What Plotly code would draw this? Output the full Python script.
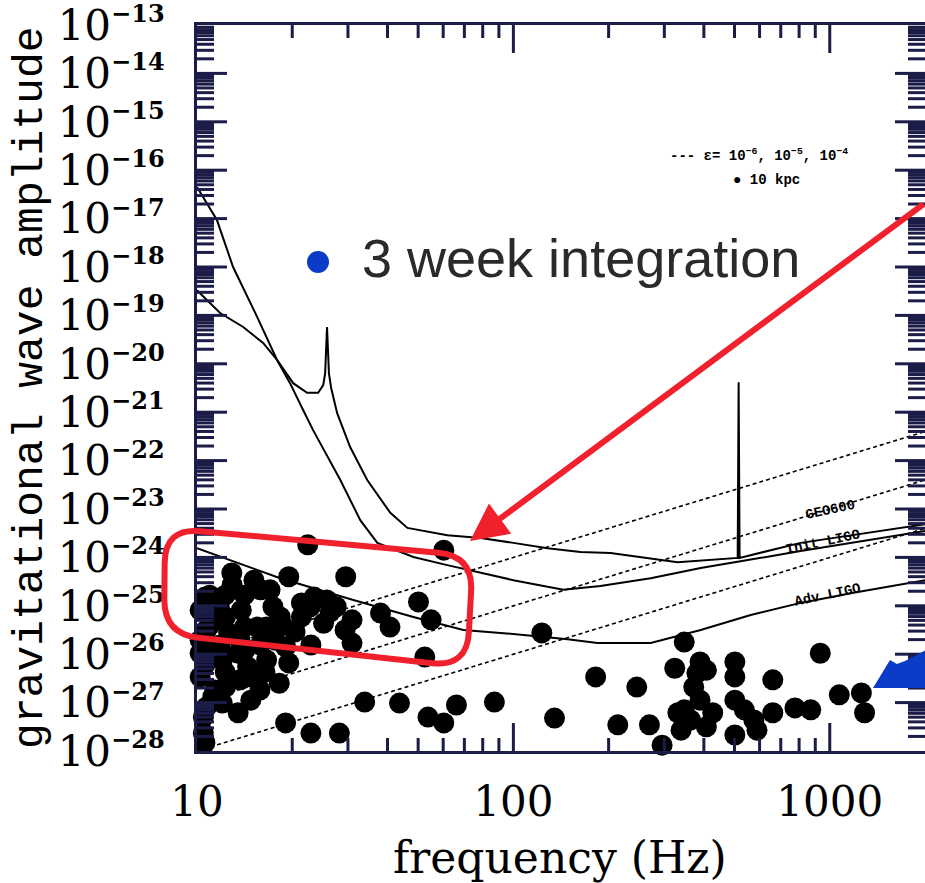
import numpy as np
import plotly.graph_objects as go

# ---------------- data (log10 units) ----------------
# Initial LIGO sensitivity curve
init_logf = [1.000, 1.063, 1.114, 1.190, 1.253, 1.294, 1.335, 1.367, 1.453, 1.516, 1.570,
             1.684, 1.791, 1.896, 2.000, 2.158, 2.275, 2.434, 2.592, 2.908, 3.304]
init_logh = [-16.35, -17.03, -18.00, -19.03, -19.92, -20.40, -20.95, -21.37, -22.40, -23.23, -23.70,
             -23.99, -24.16, -24.32, -24.47, -24.67, -24.59, -24.43, -24.22, -23.87, -23.45]

# GEO600 sensitivity curve (with 25 Hz line and violin-mode spike)
geo_logf = [1.000, 1.073, 1.146, 1.209, 1.253, 1.304, 1.348, 1.383, 1.399, 1.405, 1.411, 1.417,
            1.424, 1.443, 1.484, 1.538, 1.611, 1.665, 1.791, 1.896, 2.000, 2.108, 2.212, 2.307,
            2.519, 2.709, 2.712, 2.715, 2.908, 3.304]
geo_logh = [-18.48, -18.95, -19.24, -19.57, -19.92, -20.40, -20.60, -20.60, -20.44, -20.20, -19.24, -20.20,
            -20.50, -21.02, -21.72, -22.40, -23.08, -23.39, -23.54, -23.60, -23.70, -23.81, -23.89, -23.91,
            -24.10, -24.01, -20.38, -24.01, -23.70, -23.31]

# Advanced LIGO sensitivity curve
adv_logf = [1.000, 1.263, 1.494, 1.684, 1.842, 1.959, 2.171, 2.266, 2.434, 2.592, 2.750, 2.908, 3.066, 3.304]
adv_logh = [-23.81, -24.43, -24.88, -25.23, -25.50, -25.56, -25.69, -25.77, -25.77, -25.50, -25.19, -24.94,
            -24.74, -24.47]

# ellipticity lines (end points, 10 Hz and 2000 Hz)
eps_logf = [1.0, 3.30103]
eps_logh = [[-26.0, -21.40], [-27.0, -22.40], [-28.0, -23.40]]

# known pulsars at 10 kpc
psr_logf = [1.35, 1.78, 1.11, 1.18, 1.29, 1.47, 1.15, 1.20, 1.01, 1.07, 1.14, 1.24, 1.33, 1.37, 1.41,
            1.44, 1.40, 1.49, 1.03, 1.10, 1.19, 1.22, 1.33, 1.58, 1.61, 1.70, 1.74, 1.49, 1.36, 1.28,
            1.72, 1.01, 1.06, 1.13, 1.22, 1.29, 1.01, 1.09, 1.17, 1.26, 1.17, 1.03, 1.13, 1.02, 1.025,
            1.28, 1.36, 1.45, 1.53, 1.64, 1.73, 1.78, 1.82, 1.94, 1.04, 1.05, 1.09, 1.15, 1.01, 1.08,
            1.05, 1.20, 1.27, 1.16, 1.02, 1.08,
            1.025, 1.089, 1.041, 1.073, 1.136, 1.152, 1.247, 1.310, 1.263, 1.358, 1.421, 1.468,
            1.025, 1.089, 1.136, 1.215, 1.057, 1.199, 0.987, 0.987, 0.987, 1.231, 1.111,
            2.09, 2.54, 2.97, 2.26, 2.39, 2.51, 2.59, 2.61, 2.70, 2.70, 2.82, 3.03, 3.10, 3.11, 2.13,
            2.33, 2.43, 2.47, 2.52, 2.53, 2.57, 2.59, 2.63, 2.61, 2.70, 2.73, 2.76, 2.77, 2.70, 2.82,
            2.89, 2.94, 2.58, 2.54, 2.56]
psr_logh = [-23.74, -23.85, -24.32, -24.47, -24.40, -24.40, -24.78, -24.67, -25.09, -25.02, -25.09, -25.02,
            -24.94, -24.82, -24.88, -25.02, -25.36, -25.29, -25.50, -25.56, -25.44, -25.44, -25.23, -25.15,
            -25.44, -24.92, -25.29, -25.77, -25.81, -25.85, -26.06, -25.98, -25.91, -25.98, -26.12, -26.18,
            -26.47, -26.68, -26.47, -26.60, -26.95, -27.09, -27.21, -27.63, -27.83, -27.42, -27.63, -27.63,
            -26.99, -27.01, -27.30, -27.42, -27.05, -26.99, -24.78, -25.29, -25.23, -25.44, -25.71, -26.12,
            -26.88, -25.81, -25.40, -26.26, -27.30, -27.01,
            -24.82, -24.78, -25.40, -25.81, -25.71, -25.91, -25.71, -25.54, -25.23, -25.02, -25.13, -25.50,
            -26.22, -26.37, -26.53, -26.37, -26.74, -26.74, -25.29, -25.81, -26.29, -24.67, -24.57,
            -25.56, -25.75, -25.98, -26.47, -26.68, -26.29, -26.16, -26.33, -26.16, -26.47, -26.53, -26.84,
            -26.80, -27.21, -27.32, -27.46, -27.46, -27.88, -27.21, -27.57, -26.68, -26.95, -27.21, -27.50,
            -26.95, -27.15, -27.36, -27.57, -27.67, -27.21, -27.11, -27.15, -26.39, -27.15, -27.36]

x_ticks = [10, 100, 1000]
x_ticktext = ["10", "100", "1000"]
y_exponents = list(range(-28, -12))

# ---------------- figure ----------------
def p10(v):
    return [10.0 ** a for a in v]

XR = [1.0, np.log10(2000)]
YR = [-28.0, -13.0]
X0, W, Y1, H = 197, 728, 751, 726
PPD_X = W / (XR[1] - XR[0])
PPD_Y = H / (YR[1] - YR[0])
INK = "#1c1c48"

fig = go.Figure()
for row in eps_logh:
    fig.add_trace(go.Scatter(x=p10(eps_logf), y=p10(row), mode="lines",
                             line=dict(color="black", width=1.6, dash="4px,3px"), hoverinfo="skip"))
for lf, lh in [(init_logf, init_logh), (geo_logf, geo_logh), (adv_logf, adv_logh)]:
    fig.add_trace(go.Scatter(x=p10(lf), y=p10(lh), mode="lines",
                             line=dict(color="black", width=2), hoverinfo="skip"))
fig.add_trace(go.Scatter(x=p10(psr_logf), y=p10(psr_logh), mode="markers", cliponaxis=False,
                         marker=dict(color="black", size=21, line=dict(width=0)), hoverinfo="skip"))

# inside ticks, one trace per side
y_minor = [k * 10.0 ** e for e in range(-28, -13) for k in range(2, 10)]
y_major = [10.0 ** e for e in range(-27, -13)]
x_minor = [k * 10 ** d for d in (1, 2) for k in range(2, 10)]
x_major = [100, 1000]
y_ticks_all = [(v, 30) for v in y_major] + [(v, 17) for v in y_minor]
x_ticks_all = [(v, 28) for v in x_major] + [(v, 13) for v in x_minor]

def side_ticks(side):
    xs, ys = [], []
    if side in ("left", "right"):
        for v, L in y_ticks_all:
            if side == "left":
                xs += [10 ** XR[0], 10 ** (XR[0] + L / PPD_X), None]
            else:
                xs += [10 ** XR[1], 10 ** (XR[1] - L / PPD_X), None]
            ys += [v, v, None]
    else:
        for v, L in x_ticks_all:
            xs += [v, v, None]
            if side == "bottom":
                ys += [10 ** YR[0], 10 ** (YR[0] + L / PPD_Y), None]
            else:
                ys += [10 ** YR[1], 10 ** (YR[1] - L / PPD_Y), None]
    return xs, ys

for side in ("left", "right", "bottom", "top"):
    xs, ys = side_ticks(side)
    fig.add_trace(go.Scatter(x=xs, y=ys, mode="lines", line=dict(color=INK, width=3),
                             hoverinfo="skip"))

def px(x):
    return (x - X0) / W
def py(y):
    return (Y1 - y) / H

RED = "#f0202c"
BLUE = "#0a3cc8"

def rounded_path(pts, r):
    pts = [np.array(p, float) for p in pts]
    n = len(pts)
    s = ""
    for i in range(n):
        p0, p1, p2 = pts[i - 1], pts[i], pts[(i + 1) % n]
        a = p1 + r * (p0 - p1) / np.linalg.norm(p0 - p1)
        b = p1 + r * (p2 - p1) / np.linalg.norm(p2 - p1)
        s += ("M" if i == 0 else "L") + f"{px(a[0]):.5f},{py(a[1]):.5f}"
        s += f"Q{px(p1[0]):.5f},{py(p1[1]):.5f} {px(b[0]):.5f},{py(b[1]):.5f}"
    return s + "Z"

shapes = [
    dict(type="path", xref="paper", yref="paper",
         path=rounded_path([(165, 528), (473, 556), (467, 667), (164, 634)], 35),
         line=dict(color=RED, width=6), fillcolor="rgba(0,0,0,0)"),
    dict(type="path", xref="paper", yref="paper",
         path="M" + " L".join(f"{px(a):.5f},{py(b):.5f}" for a, b in
                             [(873, 688), (890, 660), (897, 664), (905, 661), (926, 650), (926, 688)]) + "Z",
         line=dict(width=0), fillcolor=BLUE),
    dict(type="circle", xref="paper", yref="paper", x0=px(307), x1=px(329), y0=py(273), y1=py(251),
         line=dict(width=0), fillcolor=BLUE),
]

annotations = [
    dict(xref="paper", yref="paper", x=px(360), y=py(258), xanchor="left", yanchor="middle",
         text="3 week integration", showarrow=False,
         font=dict(family="Liberation Sans", size=54, color="#2a2a2a")),
    dict(xref="paper", yref="paper", x=px(470), y=py(541), ax=470, ay=-338, text="",
         showarrow=True, arrowhead=2, arrowsize=1.25, arrowwidth=6, arrowcolor=RED, standoff=0),
    dict(xref="paper", yref="paper", x=px(759), y=py(155), xanchor="center", yanchor="middle",
         text="<b>--- ε= 10<sup>−6</sup>, 10<sup>−5</sup>, 10<sup>−4</sup></b>", showarrow=False,
         font=dict(family="Liberation Mono", size=14, color="black")),
    dict(xref="paper", yref="paper", x=px(766), y=py(180), xanchor="center", yanchor="middle",
         text="<b>● 10 kpc</b>", showarrow=False,
         font=dict(family="Liberation Mono", size=14, color="black")),
    dict(xref="paper", yref="paper", x=px(858), y=py(525), text="<b>GEO600</b>", showarrow=False,
         textangle=-12, font=dict(family="Liberation Mono", size=14, color="black")),
    dict(xref="paper", yref="paper", x=px(864), y=py(560), text="<b>Init LIGO</b>", showarrow=False,
         textangle=-12, font=dict(family="Liberation Mono", size=14, color="black")),
    dict(xref="paper", yref="paper", x=px(864), y=py(612), text="<b>Adv LIGO</b>", showarrow=False,
         textangle=-12, font=dict(family="Liberation Mono", size=14, color="black")),
    dict(xref="paper", yref="paper", x=px(30), y=py(388), text="gravitational wave amplitude",
         showarrow=False, textangle=-90, xanchor="center", yanchor="middle",
         font=dict(family="Liberation Mono", size=43, color="black")),
    dict(xref="paper", yref="paper", x=px(560), y=py(857), text="frequency (Hz)",
         showarrow=False, xanchor="center", yanchor="middle",
         font=dict(family="DejaVu Serif", size=44, color="black")),
]

fig.update_layout(
    width=925, height=883, autosize=False,
    margin=dict(l=197, r=0, t=25, b=132),
    paper_bgcolor="white", plot_bgcolor="white", showlegend=False,
    shapes=shapes, annotations=annotations,
    xaxis=dict(type="log", range=XR, tickmode="array", tickvals=x_ticks,
               ticktext=x_ticktext, ticks="", showline=True, linecolor=INK, linewidth=3,
               mirror=True, showgrid=False,
               zeroline=False, ticklabelstandoff=12, automargin=False, ticklabeloverflow="allow",
               tickfont=dict(family="DejaVu Serif", size=42, color="black")),
    yaxis=dict(type="log", range=YR, tickmode="array",
               tickvals=[10.0 ** e for e in y_exponents],
               ticktext=[f"10<sup><span style='font-size:24px'><b>−{-e}</b></span></sup>" for e in y_exponents],
               ticks="", showline=True, linecolor=INK, linewidth=3, mirror=True, showgrid=False,
               zeroline=False, ticklabelstandoff=21, automargin=False, ticklabeloverflow="allow",
               tickfont=dict(family="DejaVu Serif", size=42, color="black")),
)

fig.write_html("out.html")
